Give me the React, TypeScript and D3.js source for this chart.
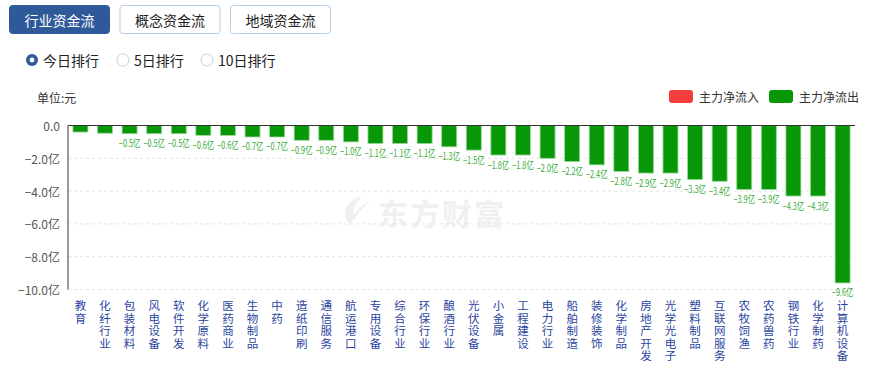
import * as d3 from 'd3';

// 行业资金流 今日排行 数据
const categories = [
  '教育', '化纤行业', '包装材料', '风电设备', '软件开发', '化学原料', '医药商业', '生物制品',
  '中药', '造纸印刷', '通信服务', '航运港口', '专用设备', '综合行业', '环保行业', '酿酒行业',
  '光伏设备', '小金属', '工程建设', '电力行业', '船舶制造', '装修装饰', '化学制品', '房地产开发',
  '光学光电子', '塑料制品', '互联网服务', '农牧饲渔', '农药兽药', '钢铁行业', '化学制药', '计算机设备',
];
const values = [
  -0.4, -0.47, -0.5, -0.5, -0.5, -0.6, -0.6, -0.7,
  -0.7, -0.9, -0.9, -1.0, -1.1, -1.1, -1.1, -1.3,
  -1.5, -1.8, -1.8, -2.0, -2.2, -2.4, -2.8, -2.9,
  -2.9, -3.3, -3.4, -3.9, -3.9, -4.3, -4.3, -9.6,
];
// 标签重叠被隐藏的
const hiddenLabels = ['教育', '化纤行业'];
const yTicks = [0, -2, -4, -6, -8, -10];
const tabs = ['行业资金流', '概念资金流', '地域资金流'];
const ranks = ['今日排行', '5日排行', '10日排行'];
const legendItems = [
  { name: '主力净流入', color: '#f43d3d' },
  { name: '主力净流出', color: '#079707' },
];

const W = 871;
const H = 372;
const FONT = '"Microsoft YaHei", "Noto Sans CJK SC", sans-serif';

export default function App() {
  const margin = { top: 125.5, left: 68, right: 16, bottom: 82.5 };

  const x = d3.scaleBand<string>()
    .domain(categories)
    .range([margin.left, W - margin.right])
    .paddingInner(0.39)
    .paddingOuter(0.2);

  const y = d3.scaleLinear()
    .domain([0, -10])
    .range([margin.top, H - margin.bottom]);

  const fmt = d3.format('.1f');

  return (
    <svg width={W} height={H} style={{ position: 'absolute', left: 0, top: 0, background: '#fff' }}
      fontFamily={FONT}>
      {/* 顶部切换按钮 */}
      {tabs.map((t, i) => {
        const bx = 9.5 + i * 110.5;
        const active = i === 0;
        return (
          <g key={t}>
            <rect x={bx} y={5.5} width={100} height={28} rx={3}
              fill={active ? '#2f5a9a' : '#fff'} stroke={active ? '#2f5a9a' : '#b3cfe9'} />
            <text x={bx + 50} y={20} textAnchor="middle" dominantBaseline="central"
              fontSize={14} fill={active ? '#fff' : '#222'}>{t}</text>
          </g>
        );
      })}

      {/* 排行单选 */}
      {ranks.map((r, i) => {
        const cx = [32, 123, 207][i];
        return (
          <g key={r}>
            {i === 0 ? (
              <>
                <circle cx={cx} cy={60} r={6} fill="#2f5a9a" />
                <circle cx={cx} cy={60} r={2.4} fill="#fff" />
              </>
            ) : (
              <circle cx={cx} cy={60} r={6} fill="#fff" stroke="#bcd3ea" />
            )}
            <text x={cx + 11} y={60} dominantBaseline="central" fontSize={14} fill="#222">{r}</text>
          </g>
        );
      })}

      {/* 单位 */}
      <text x={37} y={97} dominantBaseline="central" fontSize={12} fill="#333">单位:元</text>

      {/* 图例 */}
      {legendItems.map((l, i) => {
        const lx = 669 + i * 100;
        return (
          <g key={l.name}>
            <rect x={lx} y={90} width={24} height={13} rx={3} fill={l.color} />
            <text x={lx + 30} y={96.5} dominantBaseline="central" fontSize={12} fill="#333">{l.name}</text>
          </g>
        );
      })}

      {/* 水印 */}
      <g>
        <path d="M356,198 C345,204 341,216 350,224 C357,215 364,206 372,199 C364,203 358,209 353,215 C353,208 356,203 362,197 Z"
          fill="#f0f0f0" />
        <text x={378} y={212} dominantBaseline="central" fontSize={30} fontWeight="bold" fill="#f0f0f0"
          letterSpacing={2}>东方财富</text>
      </g>

      {/* 网格线 */}
      {yTicks.filter(t => t !== 0).map(t => (
        <line key={t} x1={margin.left} x2={W - margin.right} y1={y(t)} y2={y(t)}
          stroke="#e3e3e3" strokeDasharray="3,3" />
      ))}

      {/* y 轴刻度 */}
      {yTicks.map(t => (
        <text key={t} x={60} y={y(t)} textAnchor="end" dominantBaseline="central"
          fontSize={12} fill="#555">{t === 0 ? '0.0' : `${fmt(t)}亿`}</text>
      ))}

      {/* 柱 */}
      {categories.map((c, i) => {
        const v = values[i];
        const bx = x(c)!;
        return (
          <g key={c}>
            <rect x={bx} y={y(0)} width={x.bandwidth()} height={y(v) - y(0)}
              fill="#079707" stroke="#9ad99a" strokeWidth={0.8} />
            {!hiddenLabels.includes(c) && (
              <text x={bx + x.bandwidth() / 2} y={y(v) + 9} textAnchor="middle"
                dominantBaseline="central" fontSize={10} fill="#35aa35"
                textLength={21.5} lengthAdjust="spacingAndGlyphs">{`${fmt(v)}亿`}</text>
            )}
          </g>
        );
      })}

      {/* 轴线 */}
      <line x1={margin.left} x2={W - margin.right} y1={y(0)} y2={y(0)} stroke="#333" />
      <line x1={margin.left} x2={margin.left} y1={y(0)} y2={y(-10)} stroke="#333" />

      {/* 分类标签（竖排，逐字） */}
      {categories.map(c => {
        const cx = x(c)! + x.bandwidth() / 2;
        return (
          <g key={c}>
            {Array.from(c).map((ch, j) => (
              <text key={j} x={cx} y={305 + j * 12.6} textAnchor="middle" dominantBaseline="central"
                fontSize={11.5} fill="#2b45a0">{ch}</text>
            ))}
          </g>
        );
      })}
    </svg>
  );
}
